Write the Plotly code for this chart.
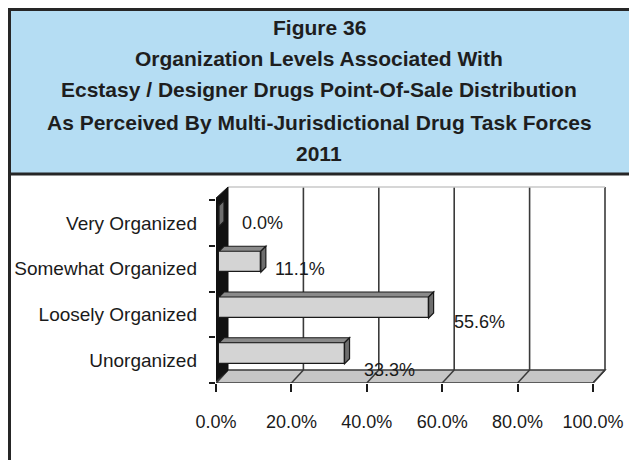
import plotly.graph_objects as go

# ---------------- data ----------------
categories = ["Unorganized", "Loosely Organized", "Somewhat Organized", "Very Organized"]
values = [33.3, 55.6, 11.1, 0.0]
x_ticks = [0, 20, 40, 60, 80, 100]
x_tick_labels = ["0.0%", "20.0%", "40.0%", "60.0%", "80.0%", "100.0%"]
title_lines = [
    "Figure 36",
    "Organization Levels Associated With",
    "Ecstasy / Designer Drugs Point-Of-Sale Distribution",
    "As Perceived By Multi-Jurisdictional Drug Task Forces",
    "2011",
]

# ---------------- geometry ----------------
W, H = 629, 460
PL, PR, PT, PB = 216, 607, 185, 383          # plot area in pixels
X0PX, X100PX = 216, 593                        # where 0 and 100 sit
PX_X = (X100PX - X0PX) / 100.0                 # px per x unit
BAND = 45.75                                   # px per category
x_max = (PR - PL) / PX_X
y_min = -0.5
y_max = y_min + (PB - PT) / BAND

def dxd(px):
    return px / PX_X

def dyd(px):
    return px / BAND

def ppx(px):   # paper x from pixel
    return (px - PL) / (PR - PL)

def ppy(py):   # paper y from pixel
    return (PB - py) / (PB - PT)

DX, DY = dxd(12), dyd(13)      # wall depth
BDX, BDY = dxd(5), dyd(5)      # bar depth
BAR_W = 0.46
BAR_OFF = -0.08
BASE = dxd(3)                  # bars sit slightly behind the front plane (perspective shift)

font_lbl = "Liberation Sans, Arial, sans-serif"
font_title = "Liberation Sans, Arial, sans-serif"

ypos = list(range(len(categories)))

fig = go.Figure()
fig.add_trace(go.Bar(
    x=values, y=ypos, base=BASE, orientation="h", width=BAR_W, offset=BAR_OFF,
    marker=dict(color="#d4d4d4", line=dict(color="#1a1a1a", width=1.3)),
    hoverinfo="skip", showlegend=False,
))

shapes = []
# title box
shapes.append(dict(type="rect", xref="paper", yref="paper",
                   x0=ppx(9.5), x1=ppx(640), y0=ppy(9.5), y1=ppy(174),
                   fillcolor="#b5ddf3", line=dict(color="#262626", width=3), layer="below"))
# left frame line
shapes.append(dict(type="line", xref="paper", yref="paper",
                   x0=ppx(9.5), x1=ppx(9.5), y0=ppy(174), y1=ppy(470),
                   line=dict(color="#262626", width=3), layer="below"))
# floor
shapes.append(dict(type="path", xref="x", yref="y", layer="below",
                   path=f"M 0,{y_min} L 100,{y_min} L {100+DX},{y_min+DY} L {DX},{y_min+DY} Z",
                   fillcolor="#c6c6c6", line=dict(color="#3a3a3a", width=1.5)))
# back wall gridlines + floor gridlines
for v in x_ticks[1:]:
    shapes.append(dict(type="line", xref="x", yref="y", layer="below",
                       x0=v + DX, x1=v + DX, y0=y_min + DY, y1=3.5 + DY,
                       line=dict(color="#3a3a3a", width=1.6)))
for v in x_ticks:
    shapes.append(dict(type="line", xref="x", yref="y", layer="below",
                       x0=v, x1=v + DX, y0=y_min, y1=y_min + DY,
                       line=dict(color="#3a3a3a", width=1.5)))
# back wall top edge
shapes.append(dict(type="line", xref="x", yref="y", layer="below",
                   x0=DX, x1=100 + DX, y0=3.5 + DY, y1=3.5 + DY,
                   line=dict(color="#c8c8c8", width=1.5)))
# left side wall
shapes.append(dict(type="path", xref="x", yref="y", layer="below",
                   path=f"M {-dxd(2)},{y_min} L {-dxd(2)},3.5 L {DX},{3.5+DY} L {DX},{y_min+DY} Z",
                   fillcolor="#111111", line=dict(color="#111111", width=1)))
# bar top and side faces
for yi, v in zip(ypos, values):
    top = yi + BAR_OFF + BAR_W
    bot = yi + BAR_OFF
    x0, x1 = BASE, BASE + v
    shapes.append(dict(type="path", xref="x", yref="y", layer="above",
                       path=f"M {x0},{top} L {x1},{top} L {x1+BDX},{top+BDY} L {x0+BDX},{top+BDY} Z",
                       fillcolor="#8a8a8a", line=dict(color="#1a1a1a", width=1.2)))
    shapes.append(dict(type="path", xref="x", yref="y", layer="above",
                       path=f"M {x1},{bot} L {x1},{top} L {x1+BDX},{top+BDY} L {x1+BDX},{bot+BDY} Z",
                       fillcolor="#6e6e6e", line=dict(color="#1a1a1a", width=1.2)))

annotations = []
# title lines
title_y = [27, 59, 90, 122, 153]
for txt, ty in zip(title_lines, title_y):
    annotations.append(dict(xref="paper", yref="paper", x=ppx(319), y=ppy(ty),
                            text=f"<b>{txt}</b>", showarrow=False,
                            xanchor="center", yanchor="middle",
                            font=dict(family=font_title, size=21, color="#1e1e1e")))
# value labels (odd 3D placements)
label_shift = [(48, -10), (54, -8), (42, 0), (46, 0)]
for yi, v, (sx, sy) in zip(ypos, values, label_shift):
    annotations.append(dict(xref="x", yref="y", x=v, y=yi, text=f"{v:.1f}%",
                            showarrow=False, xanchor="center", yanchor="middle",
                            xshift=sx, yshift=sy,
                            font=dict(family=font_lbl, size=18, color="#1a1a1a")))

fig.update_layout(
    width=W, height=H,
    margin=dict(l=PL, r=W - PR, t=PT, b=H - PB, pad=0, autoexpand=False),
    paper_bgcolor="white", plot_bgcolor="rgba(0,0,0,0)",
    shapes=shapes, annotations=annotations,
    bargap=0, showlegend=False,
    xaxis=dict(range=[0, x_max], tickvals=x_ticks, ticktext=x_tick_labels,
               showgrid=False, zeroline=False, showline=False, automargin=False,
               ticks="outside", ticklen=8, tickwidth=1.5, tickcolor="#1a1a1a",
               ticklabelstandoff=14,
               tickfont=dict(family=font_lbl, size=18, color="#1a1a1a"),
               fixedrange=True),
    yaxis=dict(range=[y_min, y_max], tickvals=ypos, ticktext=categories,
               showgrid=False, zeroline=False, showline=False, automargin=False,
               ticks="", ticklabelstandoff=18,
               minor=dict(tickvals=[-0.5, 0.5, 1.5, 2.5, 3.5], ticks="outside",
                          ticklen=6, tickwidth=1.5, tickcolor="#1a1a1a"),
               tickfont=dict(family=font_lbl, size=19, color="#1a1a1a"),
               fixedrange=True),
)

fig.write_html("out.html", config={"displayModeBar": False},
               post_script="document.body.style.margin='0';")
